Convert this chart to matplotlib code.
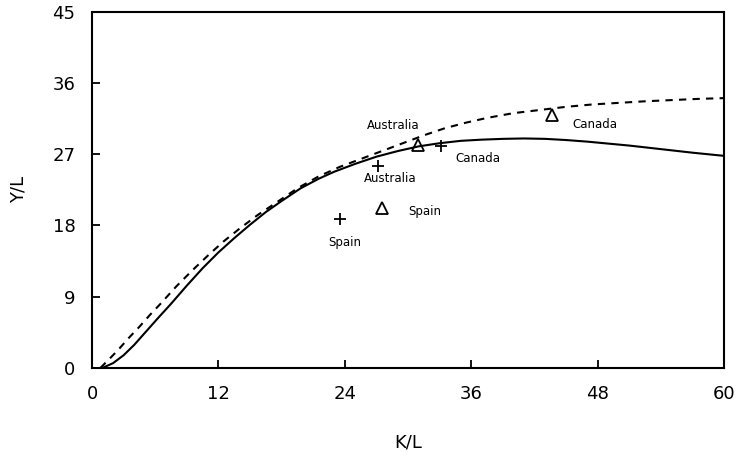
import matplotlib.pyplot as plt

# solid curve
k_solid = [1, 2, 3, 4, 5, 6.2, 7.5, 9, 10.5, 12, 13.5, 15, 16.5, 18, 19.8, 21.5, 23, 25, 27, 29, 31,
           33, 35, 37, 39, 41, 43, 45, 47, 49, 51, 53, 55, 57, 60]
y_solid = [0, 0.6, 1.6, 2.9, 4.4, 6.2, 8.1, 10.4, 12.6, 14.6, 16.4, 18.1, 19.7, 21.1, 22.7, 23.9, 24.8, 25.8, 26.7, 27.4, 28.0,
           28.4, 28.7, 28.85, 28.95, 29.0, 28.95, 28.8, 28.6, 28.35, 28.1, 27.8, 27.5, 27.2, 26.8]

# dashed curve
k_dash = [0.8, 1.7, 2.5, 3.5, 4.5, 5.5, 6.5, 8, 9.5, 11, 12.5, 14, 15.7, 17.5, 19.5, 21.5, 23.5, 25.5, 27.5,
          29.5, 31.5, 33.5, 35.5, 37.5, 40, 42.5, 45, 47.5, 50, 52.5, 55, 57.5, 60]
y_dash = [0, 1.2, 2.3, 3.8, 5.2, 6.7, 8.1, 10.3, 12.3, 14.2, 16.0, 17.6, 19.3, 20.9, 22.7, 24.2, 25.4, 26.4, 27.4,
          28.4, 29.4, 30.3, 31.0, 31.6, 32.2, 32.6, 33.0, 33.3, 33.5, 33.7, 33.85, 34.0, 34.1]

countries = ['Spain', 'Australia', 'Canada']
k_plus = [23.5, 27.1, 33.1]
y_plus = [18.8, 25.5, 28.1]
k_tri = [27.5, 30.9, 43.7]
y_tri = [20.2, 28.2, 32.0]

plus_label_pos = [(24.0, 15.9), (28.3, 23.9), (36.6, 26.5)]
tri_label_pos = [(31.6, 19.8), (28.6, 30.7), (47.7, 30.8)]

fig = plt.figure(figsize=(7.42, 4.57), dpi=100)
ax = fig.add_axes([0.124, 0.195, 0.852, 0.779])

ax.plot(k_solid, y_solid, color='black', lw=1.5)
ax.plot(k_dash, y_dash, color='black', lw=1.5, linestyle=(0, (3.5, 3)))
ax.plot(k_plus, y_plus, linestyle='none', marker='+', color='black', markersize=9, mew=1.3)
ax.plot(k_tri, y_tri, linestyle='none', marker='^', markerfacecolor='none',
        markeredgecolor='black', markersize=8, mew=1.3)

for name, (x, y) in zip(countries, plus_label_pos):
    ax.text(x, y, name, ha='center', va='center', fontsize=8.5)
for name, (x, y) in zip(countries, tri_label_pos):
    ax.text(x, y, name, ha='center', va='center', fontsize=8.5)

ax.set_xlim(0, 60)
ax.set_ylim(0, 45)
ax.set_xticks([0, 12, 24, 36, 48, 60])
ax.set_yticks([0, 9, 18, 27, 36, 45])
ax.tick_params(direction='in', length=6, width=1.3, labelsize=13)
ax.tick_params(axis='x', pad=12)
ax.tick_params(axis='y', pad=12)
for s in ax.spines.values():
    s.set_linewidth(1.5)

ax.set_xlabel('K/L', fontsize=13, labelpad=22)
ax.set_ylabel('Y/L', fontsize=13, labelpad=18)

plt.savefig('out.png', dpi=100)
